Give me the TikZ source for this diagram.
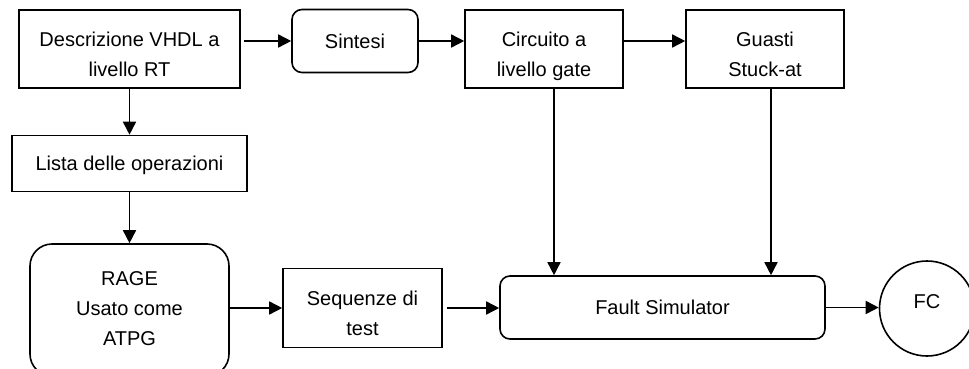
\documentclass[tikz,border=0pt]{standalone}
\usepackage{fontspec}
\setmainfont{Liberation Sans}
\usetikzlibrary{arrows.meta}

% struts: first line raised top, last line fixed depth
\newcommand{\topstrut}[1]{\rule{0pt}{#1}}
\newcommand{\botstrut}{\rule[-5pt]{0pt}{5pt}}

\tikzset{
  basebox/.style={draw=black, line width=1.6pt, fill=white, inner sep=0pt,
    align=center, font=\fontsize{20}{30}\selectfont},
  sqbox/.style={basebox, rectangle},
  rbox/.style={basebox, rectangle, rounded corners=#1},
  rbox/.default=10pt,
  oneline/.style={text height=14.3pt, text depth=0pt},
  arr/.style={line width=1.6pt, -{Triangle[length=13pt, width=13pt]}}
}

\begin{document}
\begin{tikzpicture}[x=1pt, y=-1pt]
  \useasboundingbox (0,0) rectangle (969,369);
  \clip (0,0) rectangle (969,369);

  % top row
  \node[sqbox, minimum width=221pt, minimum height=78pt] (desc) at (129.5,49)
    {\topstrut{30.4pt}Descrizione VHDL a\\livello RT\botstrut};
  \node[rbox, oneline, minimum width=126pt, minimum height=63pt] (sint) at (355,41) {Sintesi};
  \node[sqbox, minimum width=158pt, minimum height=78pt] (circ) at (544,49)
    {\topstrut{30.4pt}Circuito a\\livello gate\botstrut};
  \node[sqbox, minimum width=158pt, minimum height=78pt] (guas) at (765,49)
    {\topstrut{30.4pt}Guasti\\Stuck-at\botstrut};

  % left column
  \node[sqbox, oneline, minimum width=235pt, minimum height=56pt] (lista) at (129.5,163.5)
    {Lista delle operazioni};
  \node[rbox=22pt, minimum width=199pt, minimum height=132pt] (rage) at (129.5,310)
    {\topstrut{15.4pt}RAGE\\Usato come\\ATPG\botstrut};

  % bottom row
  \node[sqbox, minimum width=159pt, minimum height=79pt] (seq) at (362.5,308)
    {\topstrut{30.4pt}Sequenze di\\test\botstrut};
  \node[rbox, oneline, minimum width=325pt, minimum height=63pt] (fault) at (662.5,307.5)
    {Fault Simulator};
  \node[basebox, circle, minimum size=95pt, text height=14.3pt, text depth=14pt] (fc) at (927,308.5)
    {FC};

  % connectors
  \draw[arr, shorten <=3pt] (desc.east |- sint.west) -- (sint.west);
  \draw[arr] (sint.east) -- (circ.west |- sint.east);
  \draw[arr] (circ.east |- sint.east) -- (guas.west |- sint.east);
  \draw[arr] (desc.south) -- (lista.north);
  \draw[arr] (lista.south) -- (rage.north);
  \draw[arr] ([xshift=10pt]circ.south) -- ([xshift=10pt]circ.south |- fault.north);
  \draw[arr] ([xshift=6pt]guas.south) -- ([xshift=6pt]guas.south |- fault.north);
  \draw[arr] (rage.east |- seq.west) -- (seq.west);
  \draw[arr, shorten <=4pt] (seq.east) -- (fault.west |- seq.east);
  \draw[arr] (fault.east) -- (fault.east -| fc.west);
\end{tikzpicture}
\end{document}
